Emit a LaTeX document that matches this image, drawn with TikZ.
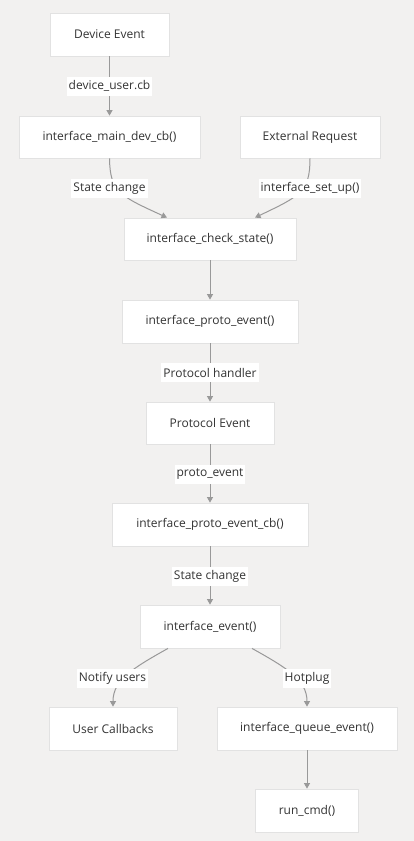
\documentclass[tikz,border=0pt]{standalone}
\usepackage{fontspec}
\setmainfont{Open Sans}
\usetikzlibrary{arrows.meta}
\definecolor{bg}{HTML}{F2F1F0}
\definecolor{bord}{HTML}{E2E2E2}
\definecolor{edge}{HTML}{999999}
\definecolor{txt}{HTML}{333333}
\tikzset{
  box/.style={draw=bord, line width=0.8pt, fill=white, rectangle, inner sep=0pt, text=txt, font=\fontsize{12}{14}\selectfont},
  lbl/.style={fill=white, inner xsep=2pt, inner ysep=0pt, minimum height=19pt, text=txt, font=\fontsize{12}{14}\selectfont},
  conn/.style={draw=edge, line width=1pt, -{Triangle[width=6pt,length=5.5pt]}},
}
\begin{document}
\begin{tikzpicture}[x=1pt,y=-1pt]
\fill[bg] (0,0) rectangle (414,841);
\useasboundingbox (0,0) rectangle (414,841);
\node[box, minimum width=119pt, minimum height=43pt] (dev) at (109.5,34.5) {Device Event};
\node[box, minimum width=181pt, minimum height=42pt] (main) at (109.5,137) {interface\_main\_dev\_cb()};
\node[box, minimum width=140pt, minimum height=42pt] (ext) at (310,137) {External Request};
\node[box, minimum width=172pt, minimum height=42pt] (check) at (210,239) {interface\_check\_state()};
\node[box, minimum width=176pt, minimum height=43pt] (proto) at (210,321.5) {interface\_proto\_event()};
\node[box, minimum width=128pt, minimum height=42pt] (pev) at (210,423) {Protocol Event};
\node[box, minimum width=196pt, minimum height=43pt] (pcb) at (210,524.5) {interface\_proto\_event\_cb()};
\node[box, minimum width=140pt, minimum height=43pt] (ev) at (210,626.5) {interface\_event()};
\node[box, minimum width=128pt, minimum height=43pt] (ucb) at (113,728.5) {User Callbacks};
\node[box, minimum width=180pt, minimum height=43pt] (queue) at (307,728.5) {interface\_queue\_event()};
\node[box, minimum width=103pt, minimum height=43pt] (run) at (307,810.5) {run\_cmd()};

\draw[conn] (dev.south) -- (main.north);
\draw[conn] (main.south) .. controls (110,192) and (120,196) .. (check.north -| 167,0);
\draw[conn] (ext.south) .. controls (310,192) and (300,196) .. (check.north -| 255,0);
\draw[conn] (check.south) -- (proto.north);
\draw[conn] (proto.south) -- (pev.north);
\draw[conn] (pev.south) -- (pcb.north);
\draw[conn] (pcb.south) -- (ev.north);
\draw[conn] (ev.south -| 168,0) .. controls (133,668) and (113,680) .. (ucb.north);
\draw[conn] (ev.south -| 252,0) .. controls (287,668) and (307,680) .. (queue.north);
\draw[conn] (queue.south) -- (run.north);

\node[lbl] (l1) at (109.5,86) {device\_user.cb};
\node[lbl] (l2) at (109.5,188) {State change};
\node[lbl] (l3) at (310,188) {interface\_set\_up()};
\node[lbl] (l4) at (210,372.5) {Protocol handler};
\node[lbl] (l5) at (210,474) {proto\_event};
\node[lbl] (l6) at (210,576) {State change};
\node[lbl] (l7) at (112.5,678) {Notify users};
\node[lbl] (l8) at (307,678) {Hotplug};
\end{tikzpicture}
\end{document}
